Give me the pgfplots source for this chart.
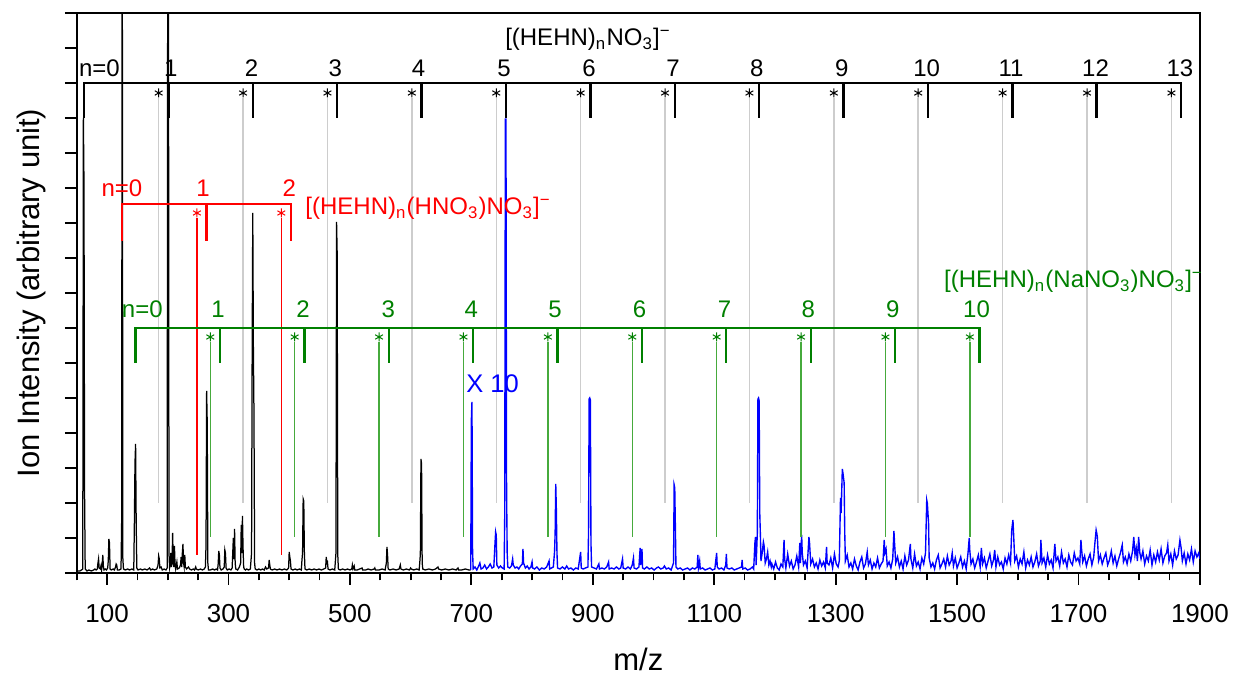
\documentclass[border=0pt]{standalone}
\usepackage{fontspec}
\setmainfont{Liberation Sans}
\usepackage{pgfplots}
\pgfplotsset{compat=1.18}
\definecolor{specblue}{RGB}{0,0,255}
\definecolor{annred}{RGB}{255,0,0}
\definecolor{anngreen}{RGB}{0,128,0}
\definecolor{linegreen}{RGB}{70,170,60}
\definecolor{linegray}{RGB}{205,205,205}

\begin{document}
\begin{tikzpicture}
\begin{axis}[
  scale only axis, width=449.3pt, height=224pt,
  xmin=50, xmax=1900, ymin=0, ymax=560,
  axis line style={line width=0.9pt},
  tick style={black, line width=0.7pt},
  tick align=outside,
  xtick={100,300,...,1900}, minor xtick={50,100,...,1900},
  xtick pos=bottom, ytick pos=left,
  ytick={0,35,...,560}, yticklabels={},
  major tick length=4.7pt, minor tick length=3pt,
  xticklabel style={font=\fontsize{10.4}{12}\selectfont, yshift=-4.2pt},
  /pgf/number format/assume math mode=true,
  /pgf/number format/1000 sep={},
  xlabel={m/z}, ylabel={Ion Intensity (arbitrary unit)},
  xlabel style={font=\fontsize{12.4}{14}\selectfont, at={(axis description cs:0.5,-0.155)}, anchor=center},
  ylabel style={font=\fontsize{12.4}{14}\selectfont, at={(axis description cs:-0.0401,0.5)}, anchor=center},
  clip mode=individual,
  unbounded coords=jump,
  line join=miter,
]
\coordinate (SW) at (rel axis cs:0,0);

% grey guide lines below the [(HEHN)nNO3]- stars
\addplot[linegray, line width=0.6pt] coordinates {
 (185,475)(185,70)(185,nan) (324,475)(324,70)(324,nan) (463,475)(463,70)(463,nan)
 (602,475)(602,70)(602,nan) (741,475)(741,70)(741,nan) (880,475)(880,70)(880,nan)
 (1019,475)(1019,70)(1019,nan) (1158,475)(1158,70)(1158,nan) (1297,475)(1297,70)(1297,nan)
 (1436,475)(1436,70)(1436,nan) (1575,475)(1575,70)(1575,nan) (1714,475)(1714,70)(1714,nan)
 (1853,475)(1853,70)};

% spectrum, m/z < 700
\addplot[black, line width=0.5pt] coordinates {
 (50,2)(55,2)(58,3)(60,4)(61,455)(62,390)(63,78)(64,4)(67,2)(70,3)(74,2)(78,3)(80,4)(82,3)(84,4)(85,10)(86,14)(87,5)(89,4)(90,7)(91,3)(92,9)(93,18)(94,6)(95,3)(97,4)(99,3)
 (101,5)(102,12)(103,34)(104,30)(105,4)(107,3)(110,4)(112,3)(114,6)(115,9)(116,8)(117,3)(120,3)(123,4)(124,50)(125,700)(126,15)(127,4)(130,3)(134,4)(137,3)(141,4)(144,3)
 (145,50)(146,110)(147,129)(148,50)(149,5)(151,3)(155,4)(158,3)(162,4)(166,3)(170,5)(172,3)(175,4)(178,3)(182,4)(184,8)(185,17)(186,14)(187,5)(189,6)(191,3)(194,4)(197,3)
 (199,5)(200,700)(201,700)(202,20)(203,5)(204,8)(205,20)(206,6)(207,10)(208,40)(209,12)(210,6)(211,27)(212,8)(213,4)(215,11)(216,4)(219,5)(221,8)(222,16)(223,6)(224,20)
 (225,29)(226,10)(227,6)(228,18)(229,6)(231,4)(234,6)(236,4)(239,3)(242,4)(244,3)(246,6)(247,4)(250,3)(254,4)(257,3)(260,4)(262,6)(263,28)(264,182)(265,150)(266,10)(267,3)
 (270,3)(274,4)(277,3)(280,4)(282,3)(283,9)(284,22)(285,18)(286,5)(288,3)(291,4)(293,6)(294,23)(295,20)(296,5)(298,3)(301,4)(304,3)(306,5)(308,35)(309,14)(310,44)(311,10)
 (312,4)(315,3)(318,6)(320,10)(321,48)(322,20)(323,57)(324,25)(325,6)(326,4)(328,3)(330,4)(333,3)(336,4)(338,20)(339,224)(340,360)(341,224)(342,157)(343,10)(344,4)(347,3)
 (350,4)(353,3)(356,4)(359,3)(361,6)(363,4)(366,5)(367,13)(368,8)(369,4)(372,3)(376,4)(380,3)(384,4)(388,3)(392,4)(396,3)(399,5)(400,21)(401,16)(402,12)(403,4)(406,3)
 (410,4)(413,3)(417,4)(420,3)(421,13)(422,20)(423,74)(424,72)(425,20)(426,4)(429,3)(433,4)(437,3)(441,4)(445,3)(449,4)(453,3)(457,4)(460,5)(461,16)(462,10)(463,11)(464,4)
 (467,3)(471,4)(475,3)(477,20)(478,351)(479,320)(480,18)(481,4)(484,3)(488,4)(492,3)(496,4)(500,3)(503,4)(504,8)(505,4)(507,7)(508,3)(512,3)(516,4)(520,5)(521,3)(526,3)
 (530,4)(535,3)(540,4)(541,5)(542,3)(548,3)(553,4)(558,3)(560,10)(561,26)(562,18)(563,4)(566,3)(571,4)(576,3)(581,4)(583,8)(584,4)(588,3)(593,4)(598,3)(600,5)(601,4)
 (605,3)(610,4)(614,3)(615,10)(616,19)(617,114)(618,109)(619,10)(620,4)(624,3)(630,4)(636,3)(641,4)(645,6)(646,4)(651,3)(657,4)(663,3)(669,4)(675,3)(678,5)(679,3)(684,3)
 (690,4)(696,3)(699,3)};

% spectrum, m/z > 700, intensity x 10
\addplot[specblue, line width=0.55pt] coordinates {
 (699,3)(700,153)(701,171)(702,22)(703,4)(706,6)(709,3)(712,7)(714,10)(716,4)(719,5)(722,8)(725,4)(728,6)(731,9)(734,5)(737,6)(739,30)(740,41)(741,38)(742,8)(745,5)(748,7)
 (751,5)(754,4)(755,60)(756,454)(757,454)(758,84)(759,20)(760,6)(763,5)(766,7)(768,14)(769,8)(772,5)(775,6)(778,4)(781,7)(784,9)(785,24)(786,10)(789,5)(792,7)(795,4)
 (798,6)(800,11)(801,5)(804,4)(808,6)(812,3)(816,5)(820,4)(824,6)(828,12)(829,4)(832,5)(835,6)(837,21)(838,40)(839,89)(840,63)(841,20)(842,5)(846,4)(850,6)(854,4)
 (857,7)(860,4)(864,5)(868,3)(872,5)(876,4)(880,21)(881,5)(884,4)(888,5)(892,6)(893,40)(894,174)(895,175)(896,173)(897,30)(898,6)(902,5)(906,4)(910,9)(911,4)(915,5)
 (919,4)(923,6)(926,11)(927,4)(931,5)(935,4)(939,6)(943,4)(946,5)(949,14)(950,5)(954,4)(958,6)(962,4)(965,8)(967,15)(968,5)(972,4)(976,6)(978,25)(979,8)(981,24)(982,5)
 (985,4)(989,6)(993,4)(997,5)(1001,3)(1005,5)(1008,6)(1012,4)(1016,5)(1018,7)(1021,4)(1025,5)(1029,3)(1033,10)(1034,88)(1035,85)(1036,47)(1037,6)(1040,4)(1044,5)(1048,3)
 (1052,4)(1056,5)(1060,3)(1064,5)(1068,4)(1072,6)(1073,18)(1074,5)(1076,12)(1077,4)(1081,5)(1085,3)(1089,4)(1093,5)(1097,3)(1101,4)(1104,20)(1105,6)(1108,4)(1112,5)
 (1116,3)(1119,8)(1120,19)(1121,5)(1125,4)(1129,5)(1133,3)(1137,4)(1141,5)(1145,6)(1146,13)(1147,4)(1151,5)(1155,3)(1159,4)(1163,6)(1165,4)(1167,30)(1168,36)(1169,8)
 (1171,40)(1172,174)(1173,175)(1174,172)(1175,60)(1176,39)(1177,12)(1179,20)(1181,31)(1182,28)(1184,10)(1186,14)(1188,21)(1190,8)(1192,12)(1194,6)
 (1195,9)(1198,4)(1201,11)(1204,5)(1207,3)(1210,9)(1213,6)(1215,33)(1216,14)(1218,5)(1221,19)(1224,7)(1227,12)(1230,4)(1233,8)(1236,17)(1239,6)(1241,30)(1242,10)(1244,38)
 (1245,20)(1247,8)(1250,12)(1253,5)(1256,36)(1257,30)(1259,9)(1262,14)(1265,6)(1268,10)(1271,4)(1274,13)(1277,7)(1280,11)(1283,5)(1285,26)(1286,10)(1289,8)(1292,15)
 (1295,5)(1298,19)(1301,9)(1304,6)(1306,12)(1308,75)(1309,60)(1311,104)(1312,100)(1314,90)(1315,40)(1316,12)(1319,18)(1322,6)(1325,10)(1328,4)(1331,14)(1334,7)(1337,3)
 (1340,11)(1343,16)(1346,5)(1349,9)(1352,21)(1354,8)(1357,13)(1360,4)(1363,10)(1366,6)(1369,15)(1372,5)(1375,9)(1378,12)(1380,33)(1381,20)(1383,24)(1385,7)(1388,11)
 (1391,5)(1394,14)(1396,42)(1397,30)(1399,10)(1402,16)(1405,6)(1408,12)(1411,4)(1414,17)(1417,8)(1420,13)(1423,29)(1424,14)(1427,5)(1430,19)(1433,7)(1436,11)(1439,4)
 (1442,15)(1445,9)(1448,20)(1450,73)(1451,70)(1453,50)(1454,15)(1457,6)(1460,10)(1463,4)(1466,13)(1469,18)(1472,5)(1475,9)(1478,14)(1481,6)(1484,17)(1487,8)(1490,12)
 (1492,20)(1494,7)(1497,15)(1500,5)(1503,10)(1506,16)(1509,6)(1512,12)(1515,4)(1518,20)(1520,35)(1521,22)(1523,9)(1526,14)(1529,5)(1532,11)(1535,18)(1538,6)(1540,25)
 (1542,9)(1545,15)(1548,5)(1551,12)(1554,19)(1557,7)(1560,13)(1562,23)(1564,6)(1567,16)(1570,8)(1573,11)(1576,4)(1579,15)(1582,9)(1585,18)(1588,10)(1590,43)(1592,53)
 (1593,40)(1595,12)(1598,17)(1601,6)(1604,14)(1607,9)(1610,21)(1613,5)(1616,13)(1619,8)(1622,16)(1625,6)(1628,11)(1631,19)(1634,7)(1637,12)(1638,33)(1640,10)(1643,15)
 (1646,6)(1649,18)(1652,9)(1655,13)(1658,5)(1661,29)(1663,12)(1666,16)(1669,7)(1672,21)(1675,10)(1678,14)(1681,6)(1684,18)(1687,11)(1690,8)(1693,20)(1696,12)(1699,15)
 (1702,9)(1704,33)(1705,24)(1707,11)(1710,17)(1713,7)(1716,14)(1719,19)(1722,8)(1725,16)(1727,30)(1729,43)(1730,40)(1731,36)(1733,12)(1736,18)(1739,9)(1742,15)(1745,20)
 (1748,8)(1751,13)(1754,22)(1757,10)(1760,17)(1763,7)(1766,14)(1769,20)(1772,28)(1774,11)(1777,16)(1780,9)(1783,19)(1786,12)(1789,22)(1791,36)(1793,18)(1795,25)(1797,12)
 (1799,36)(1801,20)(1803,14)(1806,22)(1809,9)(1812,17)(1815,12)(1818,23)(1821,8)(1824,18)(1827,11)(1830,21)(1833,13)(1836,24)(1839,10)(1842,17)(1845,20)(1847,28)(1849,12)
 (1852,19)(1855,8)(1858,22)(1861,14)(1864,18)(1867,33)(1869,25)(1871,12)(1874,20)(1877,9)(1880,19)(1883,13)(1886,24)(1889,11)(1892,22)(1895,16)(1898,20)(1900,14)};

% red and green guide lines below the stars
\addplot[annred, line width=0.5pt] coordinates {(248,355)(248,18)(248,nan)(387,355)(387,18)};
\addplot[linegreen, line width=0.6pt] coordinates {
 (270,231)(270,36)(270,nan) (409,231)(409,36)(409,nan) (548,231)(548,36)(548,nan) (687,231)(687,36)(687,nan)
 (826,231)(826,36)(826,nan) (965,231)(965,36)(965,nan) (1104,231)(1104,36)(1104,nan) (1243,231)(1243,36)(1243,nan)
 (1382,231)(1382,36)(1382,nan) (1521,231)(1521,36)};

% [(HEHN)nNO3]- series
\addplot[black, line width=1pt] coordinates {(62,455)(62,490)(1869,490)(1869,455)};
\addplot[black, line width=1pt] coordinates {
 (201,490)(201,455)(201,nan) (340,490)(340,455)(340,nan) (479,490)(479,455)(479,nan) (618,490)(618,455)(618,nan)
 (757,490)(757,455)(757,nan) (896,490)(896,455)(896,nan) (1035,490)(1035,455)(1035,nan) (1174,490)(1174,455)(1174,nan)
 (1313,490)(1313,455)(1313,nan) (1452,490)(1452,455)(1452,nan) (1591,490)(1591,455)(1591,nan) (1730,490)(1730,455)};
\addplot[black, only marks, mark=asterisk, mark size=1.8pt, mark options={line width=0.4pt}] coordinates {
 (185,480)(324,480)(463,480)(602,480)(741,480)(880,480)(1019,480)(1158,480)(1297,480)(1436,480)(1575,480)(1714,480)(1853,480)};

% [(HEHN)n(HNO3)NO3]- series
\addplot[annred, line width=1pt] coordinates {(125,332)(125,369)(403,369)(403,332)};
\addplot[annred, line width=1pt] coordinates {(264,369)(264,332)};
\addplot[annred, only marks, mark=asterisk, mark size=1.8pt, mark options={line width=0.4pt}] coordinates {(248,360)(387,360)};

% [(HEHN)n(NaNO3)NO3]- series
\addplot[anngreen, line width=0.9pt] coordinates {(147,210)(147,245)(1537,245)(1537,210)};
\addplot[anngreen, line width=0.9pt] coordinates {
 (286,245)(286,210)(286,nan) (425,245)(425,210)(425,nan) (564,245)(564,210)(564,nan) (703,245)(703,210)(703,nan)
 (842,245)(842,210)(842,nan) (981,245)(981,210)(981,nan) (1120,245)(1120,210)(1120,nan) (1259,245)(1259,210)(1259,nan)
 (1398,245)(1398,210)};
\addplot[anngreen, only marks, mark=asterisk, mark size=1.8pt, mark options={line width=0.4pt}] coordinates {
 (270,236)(409,236)(548,236)(687,236)(826,236)(965,236)(1104,236)(1243,236)(1382,236)(1521,236)};

\begin{scope}[every node/.style={font=\fontsize{9.6}{11}\selectfont, inner sep=0pt, anchor=base}]
\node at (axis cs:87.5,496) {n=0};
\node at (axis cs:205,496) {1};   \node at (axis cs:338,496) {2};   \node at (axis cs:476,496) {3};
\node at (axis cs:613,496) {4};   \node at (axis cs:754,496) {5};   \node at (axis cs:894,496) {6};
\node at (axis cs:1032,496) {7};  \node at (axis cs:1170,496) {8};  \node at (axis cs:1310,496) {9};
\node at (axis cs:1450,496) {10}; \node at (axis cs:1589,496) {11}; \node at (axis cs:1728,496) {12};
\node at (axis cs:1867,496) {13};
\node[anchor=base west] at (axis cs:755,527) {[(HEHN)\textsubscript{n}NO\textsubscript{3}]\textsuperscript{−}};

\node[annred] at (axis cs:124.6,376) {n=0};
\node[annred] at (axis cs:258,376) {1};
\node[annred] at (axis cs:400,376) {2};
\node[annred, anchor=base west] at (axis cs:426,358) {[(HEHN)\textsubscript{n}(HNO\textsubscript{3})NO\textsubscript{3}]\textsuperscript{−}};

\node[anngreen] at (axis cs:158,255) {n=0};
\node[anngreen] at (axis cs:283,255) {1};  \node[anngreen] at (axis cs:423,255) {2};
\node[anngreen] at (axis cs:563,255) {3};  \node[anngreen] at (axis cs:700,255) {4};
\node[anngreen] at (axis cs:838,255) {5};  \node[anngreen] at (axis cs:977,255) {6};
\node[anngreen] at (axis cs:1117,255) {7}; \node[anngreen] at (axis cs:1255,255) {8};
\node[anngreen] at (axis cs:1394,255) {9}; \node[anngreen] at (axis cs:1532,255) {10};
\node[anngreen, anchor=base west] at (axis cs:1478,285) {[(HEHN)\textsubscript{n}(NaNO\textsubscript{3})NO\textsubscript{3}]\textsuperscript{−}};

\node[specblue, font=\fontsize{10.2}{12}\selectfont] at (axis cs:735,180) {X 10};
\end{scope}
\end{axis}
\pgfresetboundingbox
\path (SW) ++(-30.68pt,-42.8pt) rectangle ++(493.2pt,272pt);
\end{tikzpicture}
\end{document}
